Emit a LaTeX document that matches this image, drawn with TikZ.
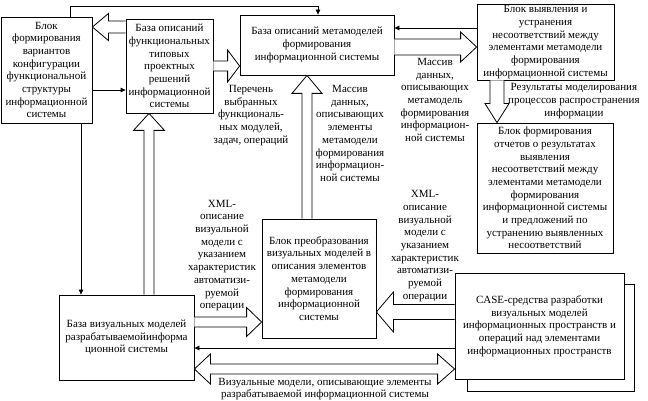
\documentclass[tikz,border=0pt]{standalone}
\usepackage{fontspec}
\setmainfont{Liberation Serif}
\usetikzlibrary{arrows.meta,calc}
\newcommand\harr[7]{% start node, tip node, y, shaft half, head half, head length, dir
\path (#1 |- 0,#3) coordinate (s) (#2 |- 0,#3) coordinate (t);
\draw[blk] ($(s)+(0,-#4)$) -- ($(t)+({0-(#7)*(#6)},-#4)$) -- ($(t)+({0-(#7)*(#6)},-#5)$) -- (t)
  -- ($(t)+({0-(#7)*(#6)},#5)$) -- ($(t)+({0-(#7)*(#6)},#4)$) -- ($(s)+(0,#4)$);}
\newcommand\varr[7]{% start node, tip node, x, shaft half, head half, head length, dir
\path (#1 -| #3,0) coordinate (s) (#2 -| #3,0) coordinate (t);
\draw[blk] ($(s)+(-#4,0)$) -- ($(t)+(-#4,{0-(#7)*(#6)})$) -- ($(t)+(-#5,{0-(#7)*(#6)})$) -- (t)
  -- ($(t)+(#5,{0-(#7)*(#6)})$) -- ($(t)+(#4,{0-(#7)*(#6)})$) -- ($(s)+(#4,0)$);}
\begin{document}
\begin{tikzpicture}[x=1pt,y=-1pt,
  box/.style={draw, line width=0.8pt, fill=white, align=center, inner sep=0pt,
    font=\fontsize{11}{12.7}\selectfont},
  lbl/.style={align=center, inner sep=0pt, font=\fontsize{11}{12.7}\selectfont},
  conn/.style={line width=0.8pt, -{Triangle[length=5pt,width=4.5pt]}},
  blk/.style={draw, line width=0.8pt, fill=white, line join=miter}]
\useasboundingbox (0,0) rectangle (648,401);

% boxes (positions)
\node[box, minimum width=91pt, minimum height=106pt] (b1) at (46.5,70)
  {Блок\\формирования\\вариантов\\конфигурации\\функциональной\\структуры\\информационной\\системы};
\node[box, minimum width=87pt, minimum height=94pt] (b2) at (169.5,66)
  {База описаний\\функциональных\\типовых\\проектных\\решений\\информационной\\системы};
\node[box, minimum width=154pt, minimum height=60pt] (b3) at (317,45)
  {База описаний метамоделей\\формирования\\информационной системы};
\node[box, minimum width=137pt, minimum height=76pt] (b4) at (545.5,42)
  {Блок выявления и\\устранения\\несоответствий между\\элементами метамодели\\формирования\\информационной системы};
\node[box, minimum width=136pt, minimum height=130pt] (b5) at (545,188)
  {Блок формирования\\отчетов о результатах\\выявления\\несоответствий между\\элементами метамодели\\формирования\\информационной системы\\и предложений по\\устранению выявленных\\несоответствий};
\node[box, minimum width=114pt, minimum height=119pt] (b6) at (319,278.5)
  {Блок преобразования\\визуальных моделей в\\описания элементов\\метамодели\\формирования\\информационной\\системы};
\node[box, minimum width=135pt, minimum height=85pt] (b7) at (126.5,337.5)
  {База визуальных моделей\\разрабатываемойинформа\\ционной системы};
\node[box, minimum width=167pt, minimum height=107pt] (caseback) at (550.5,337.5) {};
\node[box, minimum width=169pt, minimum height=106pt] (case) at (539.5,326)
  {CASE-средства разработки\\визуальных моделей\\информационных пространств и\\операций над элементами\\информационных пространств};

% block arrows
\harr{b2.west}{b1.east}{27}{6}{13.5}{16}{-1}
\harr{b2.east}{b3.west}{66}{5}{16}{12}{1}
\harr{b3.east}{b4.west}{47}{8}{15}{16}{1}
\varr{b4.south}{b5.north}{497}{7}{12}{19}{1}
\varr{b6.north}{b3.south}{307}{5}{15}{18}{-1}
\varr{b7.north}{b2.south}{149}{5}{15.5}{17}{-1}
\harr{b7.east}{b6.west}{322}{5}{14.5}{15}{1}
\harr{case.west}{b6.east}{312}{7.5}{20}{17}{-1}
% double arrow
\path (b7.east |- 0,369) coordinate (dl) (case.west |- 0,369) coordinate (dr);
\draw[blk] (dl) -- ($(dl)+(16,-15)$) -- ($(dl)+(16,-5)$) -- ($(dr)+(-17,-5)$) -- ($(dr)+(-17,-15)$)
  -- (dr) -- ($(dr)+(-17,15)$) -- ($(dr)+(-17,5)$) -- ($(dl)+(16,5)$) -- ($(dl)+(16,15)$) -- cycle;

% thin connectors
\draw[conn] (b1.north -| 70,0) -- (70,6) -- (318,6) -- (b3.north -| 318,0);
\draw[conn] (b1.east |- 0,90) -- (b2.west |- 0,90);
\draw[conn] (b4.west |- 0,28) -- (b3.east |- 0,28);
\draw[conn] (b1.south -| 81,0) -- (b7.north -| 81,0);
\draw[conn] (case.west |- 0,348) -- (b7.east |- 0,348);

% labels
\node[lbl] (l1) at (251,115.5) {Перечень\\выбранных\\функциональ-\\ных модулей,\\задач, операций};
\node[lbl] (l2) at (350,133.5) {Массив\\данных,\\описывающих\\элементы\\метамодели\\формирования\\информацион-\\ной системы};
\node[lbl] (l3) at (435,100) {Массив\\данных,\\описывающих\\метамодель\\формирования\\информацион-\\ной системы};
\node[lbl, anchor=west] (l4) at (508,101) {Результаты моделирования\\процессов распространения\\информации};
\node[lbl] (l5) at (222,255.5) {XML-\\описание\\визуальной\\модели с\\указанием\\характеристик\\автоматизи-\\руемой\\операции};
\node[lbl] (l6) at (425,246) {XML-\\описание\\визуальной\\модели с\\указанием\\характеристик\\автоматизи-\\руемой\\операции};
\node[lbl] (l7) at (325,389) {Визуальные модели, описывающие элементы\\разрабатываемой информационной системы};
\end{tikzpicture}
\end{document}
